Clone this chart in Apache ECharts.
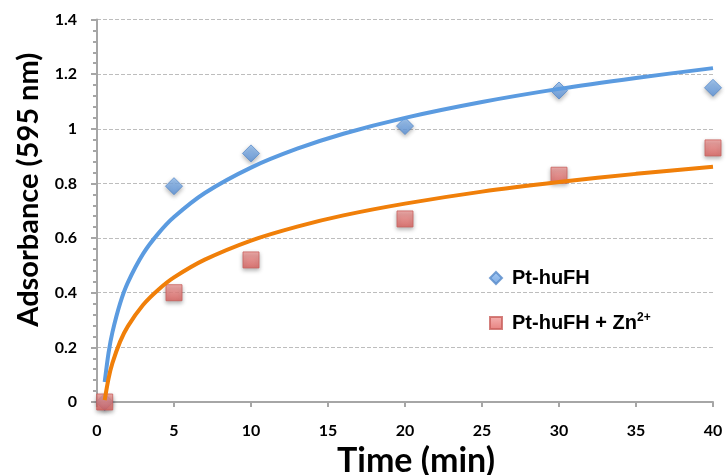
<!DOCTYPE html>
<html>
<head>
<meta charset="utf-8">
<script src="https://cdn.jsdelivr.net/npm/echarts@6/dist/echarts.min.js"></script>
<style>
html,body{margin:0;padding:0;background:#fff;}
#chart{width:727px;height:475px;}
</style>
</head>
<body>
<div id="chart"></div>
<script>
// ---- data ----
const seriesNames = ['Pt-huFH', 'Pt-huFH + Zn2+'];
const timeMin = [0.5, 5, 10, 20, 30, 40];
const ptHuFH = [0, 0.79, 0.91, 1.01, 1.14, 1.15];
const ptHuFHZn = [0, 0.40, 0.52, 0.67, 0.83, 0.93];
// trend-line points
const fitTime = [0.5, 0.75, 1, 1.5, 2, 3, 4, 5, 7, 10, 13, 16, 20, 25, 30, 35, 40];
const fitPtHuFH = [0.073, 0.180, 0.255, 0.361, 0.437, 0.543, 0.618, 0.677, 0.765, 0.858, 0.927, 0.982, 1.040, 1.098, 1.146, 1.186, 1.222];
const fitPtHuFHZn = [0.007, 0.086, 0.142, 0.221, 0.277, 0.356, 0.412, 0.456, 0.521, 0.591, 0.642, 0.683, 0.726, 0.770, 0.805, 0.835, 0.861];
const xTicks = { min: 0, max: 40, interval: 5 };
const yTicks = { min: 0, max: 1.4, interval: 0.2 };

const zip = (xs, ys) => xs.map((x, i) => [x, ys[i]]);
const FONT = 'Lato';
const axisGray = '#a6a6a6';

const chart = echarts.init(document.getElementById('chart'), null, { renderer: 'canvas' });
chart.setOption({
  animation: false,
  backgroundColor: '#ffffff',
  grid: { left: 97, right: 14, top: 19.5, bottom: 73, containLabel: false, outerBoundsMode: 'none' },
  xAxis: {
    type: 'value', min: xTicks.min, max: xTicks.max, interval: xTicks.interval,
    name: 'Time (min)', nameLocation: 'middle', nameGap: 41,
    nameTextStyle: { fontFamily: FONT, fontWeight: 'bold', fontSize: 34, color: '#000', padding: [0, 0, 0, 22] },
    axisLine: { show: true, onZero: false, lineStyle: { color: axisGray, width: 2 } },
    axisTick: { show: true, inside: false, length: 5, lineStyle: { color: axisGray, width: 2 } },
    minorTick: { show: false },
    splitLine: { show: false },
    axisLabel: { margin: 21, fontFamily: FONT, fontWeight: 'bold', fontSize: 16, color: '#000' }
  },
  yAxis: {
    type: 'value', min: yTicks.min, max: yTicks.max, interval: yTicks.interval,
    name: 'Adsorbance (595 nm)', nameLocation: 'middle', nameGap: 54, nameRotate: 90,
    nameTextStyle: { fontFamily: FONT, fontWeight: 'bold', fontSize: 29, color: '#000', padding: [0, 0, 0, 42] },
    axisLine: { show: true, lineStyle: { color: axisGray, width: 2 } },
    axisTick: { show: true, inside: false, length: 6, lineStyle: { color: axisGray, width: 2 } },
    minorTick: { show: true, splitNumber: 5, length: 4, lineStyle: { color: axisGray, width: 2 } },
    splitLine: { show: true, lineStyle: { color: '#bdbdbd', width: 1, type: [4, 2] } },
    axisLabel: { margin: 20, fontFamily: FONT, fontWeight: 'bold', fontSize: 16, color: '#000' }
  },
  legend: {
    data: seriesNames,
    orient: 'vertical',
    left: 484, top: 263,
    itemWidth: 12, itemHeight: 12, itemGap: 24,
    selectedMode: false,
    formatter: function (name) {
      return name === seriesNames[1] ? '{t|Pt-huFH + Zn}{s|2+}' : '{t|' + name + '}';
    },
    textStyle: {
      padding: [0, 0, 0, 5],
      rich: {
        t: { fontFamily: 'Liberation Sans', fontWeight: 'bold', fontSize: 20, color: '#000', lineHeight: 22 },
        s: { fontFamily: 'Liberation Sans', fontWeight: 'bold', fontSize: 12, color: '#000', verticalAlign: 'top', padding: [0, 0, 9, 0] }
      }
    }
  },
  series: [
    {
      name: seriesNames[0], type: 'scatter', z: 3,
      symbol: 'diamond', symbolSize: 17,
      data: zip(timeMin, ptHuFH),
      itemStyle: {
        color: new echarts.graphic.LinearGradient(0, 0, 0, 1, [
          { offset: 0, color: '#93c0f3' }, { offset: 1, color: '#5a93dc' }
        ]),
        borderColor: '#5689c9', borderWidth: 1,
        shadowBlur: 4, shadowOffsetY: 2, shadowColor: 'rgba(0,0,0,0.35)'
      }
    },
    {
      name: seriesNames[1], type: 'scatter', z: 3,
      symbol: 'rect', symbolSize: 16,
      data: zip(timeMin, ptHuFHZn),
      itemStyle: {
        color: new echarts.graphic.LinearGradient(0, 0, 0, 1, [
          { offset: 0, color: '#f3a09e' }, { offset: 1, color: '#e0625f' }
        ]),
        borderColor: '#c9605d', borderWidth: 1,
        shadowBlur: 4, shadowOffsetY: 2, shadowColor: 'rgba(0,0,0,0.35)'
      }
    },
    {
      name: 'fit1', type: 'line', z: 5, smooth: 0.3,
      symbol: 'none', silent: true,
      data: zip(fitTime, fitPtHuFH),
      lineStyle: { color: '#5b9be0', width: 4 }
    },
    {
      name: 'fit2', type: 'line', z: 5, smooth: 0.3,
      symbol: 'none', silent: true,
      data: zip(fitTime, fitPtHuFHZn),
      lineStyle: { color: '#f07f09', width: 4 }
    }
  ]
});
</script>
</body>
</html>
